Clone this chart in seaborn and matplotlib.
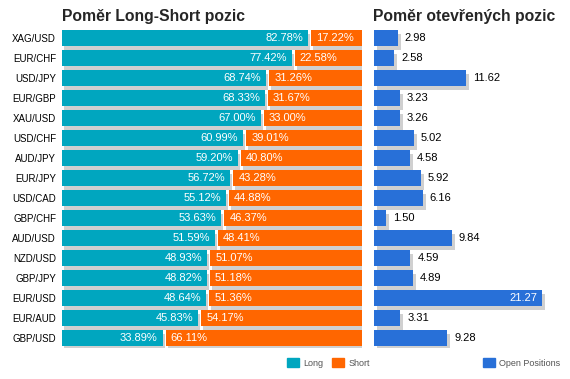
import numpy as np
import matplotlib
matplotlib.use('Agg')
import matplotlib.pyplot as plt
import matplotlib.transforms as mtransforms
from matplotlib.patches import Patch
import seaborn as sns

sns.set_style('white')
plt.rcParams['font.family'] = ['Liberation Sans', 'DejaVu Sans']

# data
pairs = ['XAG/USD', 'EUR/CHF', 'USD/JPY', 'EUR/GBP', 'XAU/USD', 'USD/CHF', 'AUD/JPY', 'EUR/JPY',
         'USD/CAD', 'GBP/CHF', 'AUD/USD', 'NZD/USD', 'GBP/JPY', 'EUR/USD', 'EUR/AUD', 'GBP/USD']
long_pct = [82.78, 77.42, 68.74, 68.33, 67.00, 60.99, 59.20, 56.72,
            55.12, 53.63, 51.59, 48.93, 48.82, 48.64, 45.83, 33.89]
short_pct = [17.22, 22.58, 31.26, 31.67, 33.00, 39.01, 40.80, 43.28,
             44.88, 46.37, 48.41, 51.07, 51.18, 51.36, 54.17, 66.11]
open_pos = [2.98, 2.58, 11.62, 3.23, 3.26, 5.02, 4.58, 5.92,
            6.16, 1.50, 9.84, 4.59, 4.89, 21.27, 3.31, 9.28]

long_color = '#00A6BF'
short_color = '#FF6600'
open_color = '#2870D8'
shadow_color = '#D0D0D0'
W, H = 570, 379
gap = 1.0

fig = plt.figure(figsize=(W / 100, H / 100), dpi=100)
ax1 = fig.add_axes([62 / W, (H - 348) / H, 300 / W, 320 / H])
ax2 = fig.add_axes([374 / W, (H - 348) / H, 192 / W, 320 / H])


def shift_new(ax, n_before, dx, dy):
    # posun stinu o par pixelu doprava a dolu
    off = mtransforms.ScaledTranslation(dx / 100, -dy / 100, fig.dpi_scale_trans)
    for p in ax.patches[n_before:]:
        p.set_transform(p.get_data_transform() + off)


y = np.arange(len(pairs))
short_left = np.array(long_pct) + gap
bar_kw = dict(orient='h', width=0.8, saturation=1, linewidth=0)

# levy panel - stiny
n0 = len(ax1.patches)
sns.barplot(x=long_pct, y=pairs, color=shadow_color, ax=ax1, **bar_kw)
ax1.barh(y, short_pct, left=short_left, height=0.8, color=shadow_color, linewidth=0)
shift_new(ax1, n0, 2, 4)

# levy panel - long / short
sns.barplot(x=long_pct, y=pairs, color=long_color, ax=ax1, **bar_kw)
ax1.barh(y, short_pct, left=short_left, height=0.8, color=short_color, linewidth=0)

for i in range(len(pairs)):
    ax1.annotate(f'{long_pct[i]:.2f}%', (long_pct[i], i), xytext=(-5, 0),
                 textcoords='offset pixels', ha='right', va='center',
                 color='white', fontsize=8)
    ax1.annotate(f'{short_pct[i]:.2f}%', (short_left[i], i), xytext=(5, 0),
                 textcoords='offset pixels', ha='left', va='center',
                 color='white', fontsize=8)

ax1.set_xlim(0, 101)
ax1.set_ylim(15.5, -0.5)
ax1.set_xlabel('')
ax1.set_ylabel('')
ax1.set_xticks([])
ax1.tick_params(axis='y', length=0, pad=4.3, labelsize=7, labelcolor='black')
sns.despine(ax=ax1, left=True, bottom=True)

# pravy panel - otevrene pozice
n0 = len(ax2.patches)
sns.barplot(x=open_pos, y=pairs, color=shadow_color, ax=ax2, **bar_kw)
shift_new(ax2, n0, 3, 4)
sns.barplot(x=open_pos, y=pairs, color=open_color, ax=ax2, **bar_kw)

for i, v in enumerate(open_pos):
    if v > 15:
        ax2.annotate(f'{v:.2f}', (v, i), xytext=(-5, 0), textcoords='offset pixels',
                     ha='right', va='center', color='white', fontsize=8)
    else:
        ax2.annotate(f'{v:.2f}', (v, i), xytext=(7, 0), textcoords='offset pixels',
                     ha='left', va='center', color='black', fontsize=8)

ax2.set_xlim(0, 192 / 7.9)
ax2.set_ylim(15.5, -0.5)
ax2.set_xlabel('')
ax2.set_ylabel('')
ax2.set_xticks([])
ax2.set_yticks([])
sns.despine(ax=ax2, left=True, bottom=True)

# nadpisy
fig.text(62 / W, 1 - 17 / H, 'Poměr Long-Short pozic', fontsize=11.3,
         fontweight='bold', ha='left', va='center')
fig.text(373 / W, 1 - 17 / H, 'Poměr otevřených pozic', fontsize=11.3,
         fontweight='bold', ha='left', va='center')

# legendy
leg_kw = dict(frameon=False, fontsize=6.5, labelcolor='#555555', loc='center left',
              borderpad=0, borderaxespad=0, handlelength=1.33, handleheight=1.1,
              handletextpad=0.45, columnspacing=1.0)
fig.legend(handles=[Patch(color=long_color, label='Long'),
                    Patch(color=short_color, label='Short')],
           ncol=2, bbox_to_anchor=(287 / W, 1 - 363 / H), **leg_kw)
fig.legend(handles=[Patch(color=open_color, label='Open Positions')],
           bbox_to_anchor=(483 / W, 1 - 363 / H), **leg_kw)

plt.savefig('out.png', dpi=100)
